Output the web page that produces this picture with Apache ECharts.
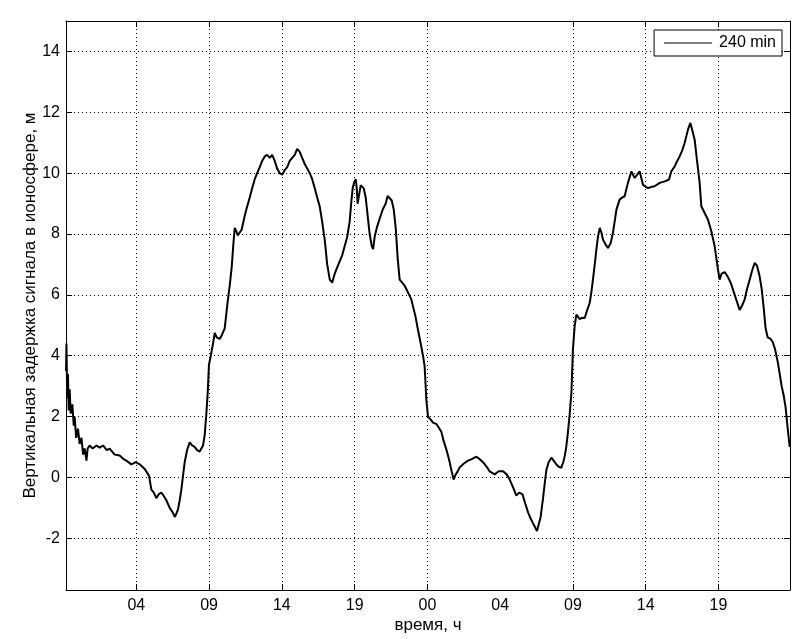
<!DOCTYPE html>
<html>
<head>
<meta charset="utf-8">
<script src="https://cdn.jsdelivr.net/npm/echarts@6/dist/echarts.min.js"></script>
<style>
html, body { margin: 0; padding: 0; background: #fff; }
#main { width: 811px; height: 639px; }
</style>
</head>
<body>
<div id="main"></div>
<script>
// time in hours from start of record
var timeH = [
  0.16, 0.19, 0.24, 0.29, 0.34, 0.40, 0.47, 0.58, 0.67, 0.73, 0.83, 0.95, 1.06, 1.18, 1.29, 1.39, 1.51, 1.59, 1.72, 1.92,
  2.17, 2.38, 2.60, 2.85, 3.04, 3.37, 3.70, 3.97, 4.14, 4.47, 4.76, 5.02, 5.35, 5.64, 5.79, 5.95, 6.12, 6.28, 6.45, 6.60,
  6.78, 7.00, 7.20, 7.33, 7.43, 7.55, 7.66, 7.77, 7.89, 7.99, 8.15, 8.32, 8.48, 8.65, 8.81, 8.98, 9.20, 9.31, 9.42, 9.51,
  9.59, 9.71, 9.86, 9.97, 10.10, 10.30, 10.46, 10.63, 10.83, 10.96, 11.09, 11.19, 11.29, 11.39, 11.49, 11.62, 11.75, 11.95, 12.11, 12.28,
  12.44, 12.61, 12.77, 12.94, 13.10, 13.27, 13.43, 13.60, 13.76, 13.93, 14.09, 14.26, 14.42, 14.59, 14.75, 14.92, 15.08, 15.25, 15.41, 15.58,
  15.74, 15.91, 16.07, 16.24, 16.40, 16.57, 16.73, 16.90, 17.06, 17.23, 17.39, 17.56, 17.72, 17.89, 18.05, 18.21, 18.38, 18.54, 18.71, 18.87,
  18.97, 19.07, 19.17, 19.27, 19.34, 19.40, 19.50, 19.60, 19.70, 19.80, 19.93, 20.06, 20.19, 20.33, 20.42, 20.52, 20.66, 20.85, 21.05, 21.25,
  21.38, 21.51, 21.65, 21.78, 21.91, 22.04, 22.17, 22.34, 22.50, 22.70, 22.94, 23.21, 23.36, 23.54, 23.71, 23.82, 23.93, 24.04, 24.22, 24.37,
  24.61, 24.92, 25.07, 25.25, 25.37, 25.47, 25.60, 25.73, 25.87, 26.00, 26.13, 26.39, 26.68, 26.92, 27.23, 27.45, 27.67, 27.91, 28.11, 28.44,
  28.70, 28.99, 29.23, 29.43, 29.63, 29.87, 30.05, 30.27, 30.45, 30.64, 30.81, 31.01, 31.23, 31.36, 31.47, 31.62, 31.74, 31.85, 32.00, 32.18,
  32.33, 32.51, 32.66, 32.84, 32.96, 33.06, 33.16, 33.27, 33.39, 33.50, 33.60, 33.72, 33.83, 33.93, 34.05, 34.21, 34.38, 34.54, 34.71, 34.82,
  34.92, 35.04, 35.15, 35.25, 35.37, 35.48, 35.58, 35.76, 35.91, 36.09, 36.24, 36.35, 36.47, 36.68, 36.85, 37.01, 37.23, 37.46, 37.56, 37.67,
  37.84, 38.00, 38.22, 38.40, 38.55, 38.80, 38.99, 39.32, 39.65, 39.94, 40.09, 40.31, 40.48, 40.64, 40.81, 40.97, 41.19, 41.35, 41.52, 41.63,
  41.78, 41.96, 42.07, 42.29, 42.51, 42.73, 42.95, 43.17, 43.28, 43.41, 43.61, 43.81, 44.01, 44.27, 44.47, 44.60, 44.76, 44.93, 45.09, 45.26,
  45.42, 45.59, 45.75, 45.92, 46.05, 46.18, 46.31, 46.45, 46.64, 46.78, 46.94, 47.11, 47.24, 47.37, 47.50, 47.63, 47.77, 47.90
];
// vertical ionospheric delay, m
var delayM = [
  3.5, 4.4, 2.6, 3.4, 2.2, 2.9, 2.1, 2.4, 1.7, 2.0, 1.3, 1.6, 1.1, 1.3, 0.75, 0.95, 0.55, 0.95, 1.05, 0.95,
  1.05, 0.98, 1.05, 0.9, 0.95, 0.75, 0.72, 0.6, 0.55, 0.43, 0.5, 0.43, 0.28, 0.05, -0.4, -0.5, -0.68, -0.55, -0.5, -0.6,
  -0.75, -1.0, -1.15, -1.3, -1.2, -1.05, -0.75, -0.4, 0.1, 0.5, 0.9, 1.15, 1.05, 1.0, 0.9, 0.85, 1.05, 1.4, 2.1, 2.8,
  3.7, 4.0, 4.4, 4.75, 4.6, 4.55, 4.7, 4.9, 5.8, 6.3, 6.9, 7.6, 8.2, 8.1, 7.95, 8.05, 8.15, 8.6, 8.9, 9.2,
  9.5, 9.8, 10.0, 10.2, 10.4, 10.55, 10.6, 10.5, 10.6, 10.4, 10.15, 10.0, 9.95, 10.1, 10.2, 10.4, 10.5, 10.6, 10.8, 10.7,
  10.5, 10.3, 10.15, 10.0, 9.8, 9.5, 9.2, 8.9, 8.4, 7.8, 7.0, 6.5, 6.4, 6.7, 6.9, 7.1, 7.3, 7.6, 7.9, 8.4,
  9.0, 9.5, 9.7, 9.8, 9.5, 9.0, 9.3, 9.6, 9.6, 9.5, 9.2, 8.6, 8.0, 7.6, 7.5, 7.9, 8.2, 8.5, 8.8, 9.0,
  9.25, 9.3, 9.1, 8.8, 8.2, 7.2, 6.5, 6.4, 6.3, 6.1, 5.85, 5.3, 4.9, 4.45, 4.0, 3.65, 2.56, 2.0, 1.9, 1.8,
  1.75, 1.5, 1.2, 0.92, 0.7, 0.5, 0.2, -0.07, 0.1, 0.2, 0.33, 0.45, 0.55, 0.6, 0.68, 0.6, 0.5, 0.35, 0.2, 0.1,
  0.2, 0.2, 0.1, -0.07, -0.3, -0.6, -0.5, -0.55, -0.85, -1.15, -1.35, -1.55, -1.76, -1.7, -1.3, -0.72, -0.2, 0.25, 0.5, 0.65,
  0.55, 0.43, 0.35, 0.32, 0.5, 0.7, 1.0, 1.47, 2.1, 2.78, 4.2, 5.0, 5.35, 5.35, 5.2, 5.25, 5.24, 5.5, 5.74, 6.1,
  6.5, 7.0, 7.5, 7.9, 8.2, 8.05, 7.82, 7.65, 7.54, 7.7, 8.04, 8.4, 8.8, 9.13, 9.2, 9.24, 9.68, 10.06, 9.95, 9.84,
  9.95, 10.06, 9.62, 9.55, 9.51, 9.55, 9.57, 9.68, 9.73, 9.79, 10.06, 10.22, 10.4, 10.55, 10.75, 10.99, 11.43, 11.65, 11.32, 11.1,
  10.44, 9.68, 8.91, 8.69, 8.47, 8.09, 7.6, 6.83, 6.5, 6.7, 6.75, 6.6, 6.4, 6.0, 5.7, 5.5, 5.65, 5.85, 6.2, 6.5,
  6.8, 7.05, 6.95, 6.6, 6.2, 5.6, 4.9, 4.6, 4.55, 4.45, 4.2, 3.8, 3.4, 3.0, 2.7, 2.3, 1.6, 1.0
];
// x ticks every 0.2 day (4.8 h); the 28.8 h one has no tick mark in the original
var xLabelHours = [4.8, 9.6, 14.4, 19.2, 24, 28.8, 33.6, 38.4, 43.2];
var xTickHours = [4.8, 9.6, 14.4, 19.2, 24, 33.6, 38.4, 43.2];
var yTicks = [-2, 0, 2, 4, 6, 8, 10, 12, 14];

var seriesData = [];
for (var i = 0; i < timeH.length; i++) {
  seriesData.push([timeH[i], delayM[i]]);
}

var font = 'Liberation Sans, Arial, Helvetica, sans-serif';
var dotted = { show: true, lineStyle: { color: '#000', width: 1, type: [1, 3] } };
var boxLine = { show: true, onZero: false, lineStyle: { color: '#000', width: 1 } };

function hourLabel (v) {
  var h = Math.floor((v + 0.001) % 24);
  return (h < 10 ? '0' : '') + h;
}

var chart = echarts.init(document.getElementById('main'));
chart.setOption({
  backgroundColor: '#fff',
  animation: false,
  grid: { left: 66, right: 21, top: 21, bottom: 48, containLabel: false },
  legend: {
    right: 29,
    top: 30,
    orient: 'vertical',
    backgroundColor: '#fff',
    borderColor: '#000',
    borderWidth: 1,
    borderRadius: 0,
    padding: [5, 6, 5, 10],
    itemWidth: 48,
    itemHeight: 1,
    data: [{ name: '240 min', icon: 'rect' }],
    textStyle: { color: '#000', fontSize: 16, fontFamily: font, padding: [0, 0, 0, 2] }
  },
  xAxis: [
    {
      type: 'value',
      min: 0.16,
      max: 47.92,
      name: 'время, ч',
      nameLocation: 'middle',
      nameGap: 27,
      nameMoveOverlap: false,
      nameTextStyle: { color: '#000', fontSize: 17, fontFamily: font },
      axisLine: boxLine,
      axisTick: { inside: true, length: 6, customValues: xTickHours, lineStyle: { color: '#000' } },
      axisLabel: { customValues: xLabelHours, formatter: hourLabel, color: '#000', fontSize: 16, fontFamily: font, margin: 8 },
      splitLine: dotted
    },
    {
      type: 'value',
      position: 'top',
      min: 0.16,
      max: 47.92,
      axisLine: boxLine,
      axisTick: { inside: true, length: 6, customValues: xTickHours, lineStyle: { color: '#000' } },
      axisLabel: { show: false },
      splitLine: { show: false }
    }
  ],
  yAxis: [
    {
      type: 'value',
      min: -3.7,
      max: 15,
      name: 'Вертикальная задержка сигнала в ионосфере, м',
      nameLocation: 'middle',
      nameGap: 27,
      nameMoveOverlap: false,
      nameTextStyle: { color: '#000', fontSize: 17, fontFamily: font },
      axisLine: boxLine,
      axisTick: { show: true, inside: true, length: 6, customValues: yTicks, lineStyle: { color: '#000' } },
      axisLabel: { customValues: yTicks, color: '#000', fontSize: 16, fontFamily: font, margin: 6 },
      splitLine: dotted
    },
    {
      type: 'value',
      position: 'right',
      min: -3.7,
      max: 15,
      axisLine: boxLine,
      axisTick: { show: true, inside: true, length: 6, customValues: yTicks, lineStyle: { color: '#000' } },
      axisLabel: { show: false },
      splitLine: { show: false }
    }
  ],
  series: [
    {
      name: '240 min',
      type: 'line',
      xAxisIndex: 0,
      yAxisIndex: 0,
      symbol: 'none',
      lineStyle: { color: '#000', width: 2 },
      itemStyle: { color: '#000' },
      data: seriesData
    }
  ]
});
</script>
</body>
</html>
